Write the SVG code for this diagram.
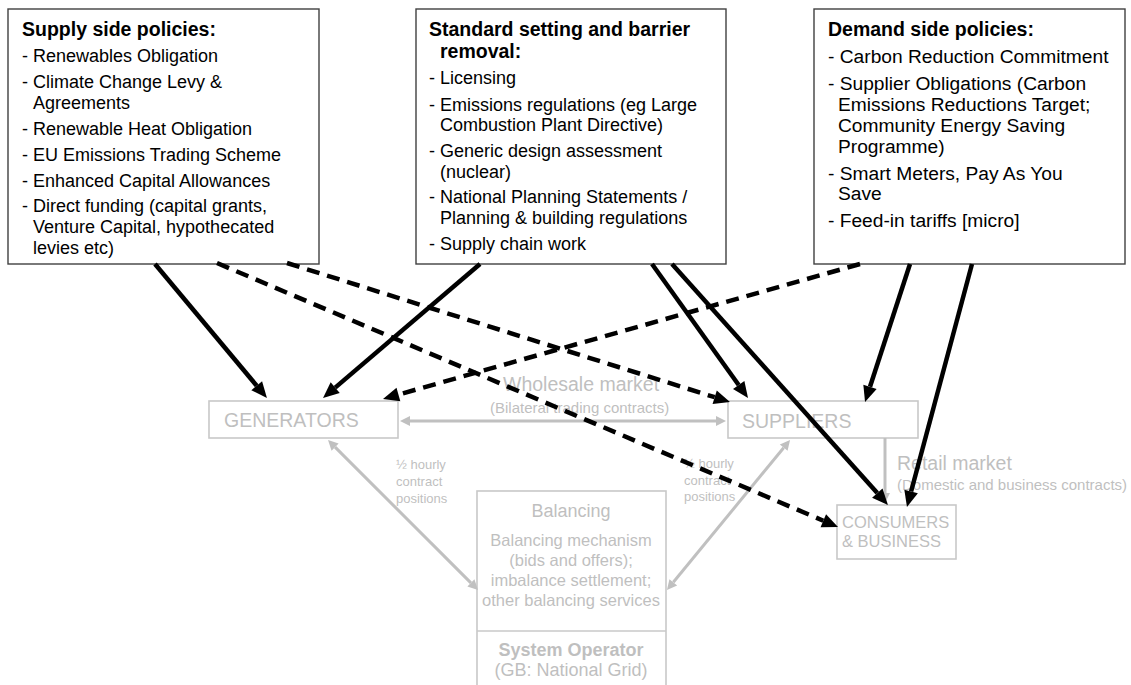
<svg xmlns="http://www.w3.org/2000/svg" width="1131" height="685" viewBox="0 0 1131 685">
<style>
text{font-family:"Liberation Sans",Arial,sans-serif}
.pbox{fill:#fff;stroke:#404040;stroke-width:1.4}
.ttl{font-size:19.5px;font-weight:bold;fill:#000}
.b18{font-size:18px;fill:#000}
.b19{font-size:19.2px;fill:#000}
.gbox{fill:#fff;stroke:#c8c8c8;stroke-width:1.6}
.gt{fill:#bfbfbf}
.gline{stroke:#c0c0c0;stroke-width:3;fill:none}
.bl{stroke:#000;stroke-width:4.5;fill:none}
.dash{stroke-dasharray:13 8}
</style>
<defs>
<marker id="ah" markerUnits="userSpaceOnUse" markerWidth="17" markerHeight="14" refX="0" refY="7" orient="auto" overflow="visible">
<path d="M0,0 L16,7 L0,14 z" fill="#000"/>
</marker>
<marker id="gh" markerUnits="userSpaceOnUse" markerWidth="11" markerHeight="10" refX="0" refY="5" orient="auto-start-reverse" overflow="visible">
<path d="M0,0 L10,5 L0,10 z" fill="#c0c0c0"/>
</marker>
</defs>

<g id="supply-box">
<rect class="pbox" x="8" y="9" width="311" height="255"/>
<text class="ttl" x="22" y="36">Supply side policies:</text>
<text class="b18" x="22" y="62">- Renewables Obligation</text>
<text class="b18" x="22" y="88">- Climate Change Levy &amp;</text>
<text class="b18" x="33" y="109">Agreements</text>
<text class="b18" x="22" y="135">- Renewable Heat Obligation</text>
<text class="b18" x="22" y="161">- EU Emissions Trading Scheme</text>
<text class="b18" x="22" y="187">- Enhanced Capital Allowances</text>
<text class="b18" x="22" y="212">- Direct funding (capital grants,</text>
<text class="b18" x="33" y="233">Venture Capital, hypothecated</text>
<text class="b18" x="33" y="254">levies etc)</text>
</g>

<g id="standard-box">
<rect class="pbox" x="416" y="9" width="310" height="255"/>
<text class="ttl" x="429" y="36">Standard setting and barrier</text>
<text class="ttl" x="440" y="58">removal:</text>
<text class="b18" x="429" y="84">- Licensing</text>
<text class="b18" x="429" y="111">- Emissions regulations (eg Large</text>
<text class="b18" x="440" y="131">Combustion Plant Directive)</text>
<text class="b18" x="429" y="157">- Generic design assessment</text>
<text class="b18" x="440" y="178">(nuclear)</text>
<text class="b18" x="429" y="203">- National Planning Statements /</text>
<text class="b18" x="440" y="224">Planning &amp; building regulations</text>
<text class="b18" x="429" y="250">- Supply chain work</text>
</g>

<g id="demand-box">
<rect class="pbox" x="814" y="9" width="311" height="255"/>
<text class="ttl" x="828" y="36">Demand side policies:</text>
<text class="b19" x="828" y="63">- Carbon Reduction Commitment</text>
<text class="b19" x="828" y="90">- Supplier Obligations (Carbon</text>
<text class="b19" x="838" y="111">Emissions Reductions Target;</text>
<text class="b19" x="838" y="132">Community Energy Saving</text>
<text class="b19" x="838" y="153">Programme)</text>
<text class="b19" x="828" y="180">- Smart Meters, Pay As You</text>
<text class="b19" x="838" y="200">Save</text>
<text class="b19" x="828" y="227">- Feed-in tariffs [micro]</text>
</g>

<g id="generators">
<rect class="gbox" x="209" y="401" width="189" height="37"/>
<text class="gt" x="224" y="427" font-size="19.5">GENERATORS</text>
</g>

<g id="suppliers">
<rect class="gbox" x="728" y="401" width="190" height="37"/>
<text class="gt" x="742" y="428" font-size="19.5">SUPPLIERS</text>
</g>

<g id="consumers">
<rect class="gbox" x="837" y="505" width="119" height="54"/>
<text class="gt" x="842" y="528" font-size="16.5">CONSUMERS</text>
<text class="gt" x="842" y="547" font-size="16.5">&amp; BUSINESS</text>
</g>

<g id="balancing">
<rect class="gbox" x="477" y="491" width="189" height="210"/>
<line x1="477" y1="631" x2="666" y2="631" stroke="#c8c8c8" stroke-width="1.6"/>
<g class="gt" text-anchor="middle">
<text x="571" y="517" font-size="18">Balancing</text>
<text x="571" y="546" font-size="16.5">Balancing mechanism</text>
<text x="571" y="566" font-size="16.5">(bids and offers);</text>
<text x="571" y="586" font-size="16.5">imbalance settlement;</text>
<text x="571" y="606" font-size="16.5">other balancing services</text>
<text x="571" y="656" font-size="18" font-weight="bold">System Operator</text>
<text x="571" y="676" font-size="18">(GB: National Grid)</text>
</g>
</g>

<g id="market-labels" class="gt">
<text x="503" y="391" font-size="19.5">Wholesale market</text>
<text x="490" y="413" font-size="15">(Bilateral trading contracts)</text>
<text x="897" y="470" font-size="19.5">Retail market</text>
<text x="897" y="490" font-size="15">(Domestic and business contracts)</text>
<text x="396" y="469" font-size="13">½ hourly</text>
<text x="396" y="486" font-size="13">contract</text>
<text x="396" y="503" font-size="13">positions</text>
<text x="684" y="468" font-size="13">½ hourly</text>
<text x="684" y="485" font-size="13">contract</text>
<text x="684" y="501" font-size="13">positions</text>
</g>

<g id="connectors">
<g id="market-flows">
<line class="gline" x1="410" y1="421" x2="716" y2="421" marker-start="url(#gh)" marker-end="url(#gh)"/>
<line class="gline" x1="335.1" y1="447.1" x2="470.9" y2="582.9" marker-start="url(#gh)" marker-end="url(#gh)"/>
<line class="gline" x1="783.7" y1="447.7" x2="673.3" y2="582.3" marker-start="url(#gh)" marker-end="url(#gh)"/>
<line class="gline" x1="885" y1="438" x2="885" y2="493" marker-end="url(#gh)"/>
</g>
<g id="policy-links">
<line class="bl" x1="155" y1="264" x2="256.7" y2="385.7" marker-end="url(#ah)"/>
<line class="bl dash" x1="217" y1="263" x2="823.3" y2="520.7" marker-end="url(#ah)"/>
<line class="bl dash" x1="287" y1="263" x2="714.7" y2="397.2" marker-end="url(#ah)"/>
<line class="bl" x1="480" y1="264" x2="335.2" y2="387.6" marker-end="url(#ah)"/>
<line class="bl" x1="652" y1="264" x2="738.7" y2="385" marker-end="url(#ah)"/>
<line class="bl" x1="672" y1="264" x2="877.3" y2="493.1" marker-end="url(#ah)"/>
<line class="bl dash" x1="860" y1="264" x2="398.4" y2="394.6" marker-end="url(#ah)"/>
<line class="bl" x1="910" y1="264" x2="870" y2="386.8" marker-end="url(#ah)"/>
<line class="bl" x1="972" y1="264" x2="911.1" y2="491.5" marker-end="url(#ah)"/>
</g>
</g>
</svg>
